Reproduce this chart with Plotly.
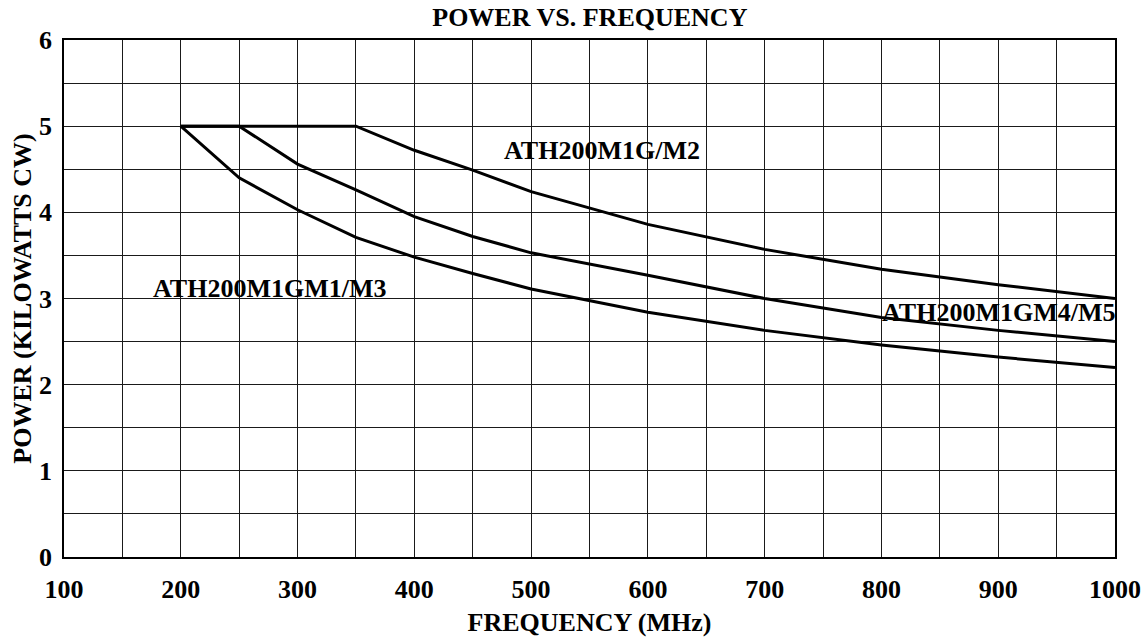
import plotly.graph_objects as go

# Data
freq_m2 = [200, 350, 400, 450, 500, 550, 600, 700, 800, 900, 1000]
power_m2 = [5.0, 5.0, 4.72, 4.49, 4.24, 4.05, 3.86, 3.57, 3.34, 3.16, 3.00]

freq_m4 = [200, 250, 300, 350, 400, 450, 500, 600, 700, 800, 900, 1000]
power_m4 = [5.0, 5.0, 4.56, 4.26, 3.95, 3.72, 3.53, 3.27, 3.00, 2.78, 2.63, 2.50]

freq_m1 = [200, 250, 300, 350, 400, 450, 500, 600, 700, 800, 900, 1000]
power_m1 = [5.0, 4.40, 4.03, 3.71, 3.48, 3.29, 3.11, 2.84, 2.63, 2.46, 2.32, 2.20]

x_ticks = [100, 200, 300, 400, 500, 600, 700, 800, 900, 1000]
y_ticks = [0, 1, 2, 3, 4, 5, 6]

labels = ["ATH200M1G/M2", "ATH200M1GM1/M3", "ATH200M1GM4/M5"]
label_x = [561, 276, 900]
label_y = [4.72, 3.12, 2.84]

FONT = "Liberation Serif"
FS = 26

fig = go.Figure()
for fx, py in [(freq_m2, power_m2), (freq_m4, power_m4), (freq_m1, power_m1)]:
    fig.add_trace(go.Scatter(x=fx, y=py, mode="lines",
                             line=dict(color="black", width=3),
                             showlegend=False, hoverinfo="x+y"))

for t, lx, ly in zip(labels, label_x, label_y):
    fig.add_annotation(x=lx, y=ly, text=t, showarrow=False,
                       font=dict(family=FONT, size=FS, color="black", weight="bold"),
                       xanchor="center", yanchor="middle")

axis_common = dict(
    showline=True, linecolor="black", linewidth=1.5, mirror=True,
    showgrid=True, gridcolor="#1a1a1a", gridwidth=1.3,
    zeroline=False, automargin=False,
    tickfont=dict(family=FONT, size=FS, color="black", weight="bold"),
    ticks="outside", tickcolor="rgba(0,0,0,0)",
)

fig.update_xaxes(
    range=[100, 1000], tickvals=x_ticks, ticklen=8,
    minor=dict(dtick=50, tick0=100, showgrid=True, gridcolor="#1a1a1a", gridwidth=1.3),
    title=dict(text="FREQUENCY (MHz)", standoff=10,
               font=dict(family=FONT, size=FS, color="black", weight="bold")),
    **axis_common,
)
fig.update_yaxes(
    range=[0, 6], tickvals=y_ticks, ticklen=5,
    minor=dict(dtick=0.5, tick0=0, showgrid=True, gridcolor="#1a1a1a", gridwidth=1.3),
    title=dict(text="POWER (KILOWATTS CW)", standoff=0,
               font=dict(family=FONT, size=FS, color="black", weight="bold")),
    **axis_common,
)

fig.update_layout(
    width=1148, height=644,
    margin=dict(l=64, r=33, t=40, b=87),
    paper_bgcolor="white", plot_bgcolor="white",
    title=dict(text="POWER VS. FREQUENCY", x=0.5138, xanchor="center",
               y=0.973, yanchor="middle",
               font=dict(family=FONT, size=FS, color="black", weight="bold")),
)

fig.write_html("out.html", config={"displayModeBar": False},
               post_script="document.body.style.margin='0';document.body.style.overflow='hidden';")
